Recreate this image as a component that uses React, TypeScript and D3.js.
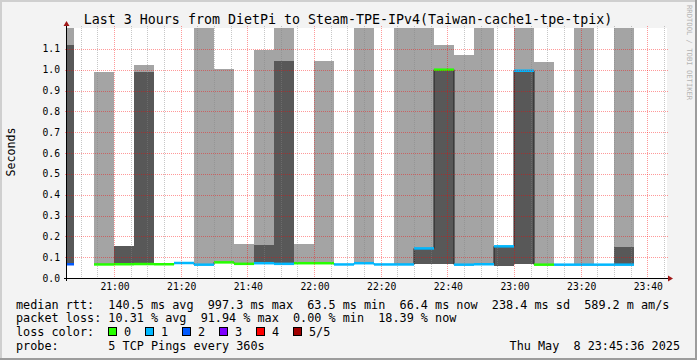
import React, { useRef, useEffect } from 'react';
import * as d3 from 'd3';

// one entry per 6 minute step (5 TCP pings every 360s)
const stepTimes = [
  '20:42', '20:48', '20:54', '21:00', '21:06', '21:12', '21:18', '21:24', '21:30', '21:36',
  '21:42', '21:48', '21:54', '22:00', '22:06', '22:12', '22:18', '22:24', '22:30', '22:36',
  '22:42', '22:48', '22:54', '23:00', '23:06', '23:12', '23:18', '23:24', '23:30', '23:36', '23:42',
];
// median rtt in seconds
const medianRtt = [
  0.066, null, 0.065, 0.066, 0.067, 0.066, 0.072, 0.064, 0.075, 0.068,
  0.071, 0.068, 0.071, 0.071, 0.065, 0.071, 0.065, 0.065, 0.142, 1.0,
  0.064, 0.066, 0.152, 0.995, 0.064, 0.064, 0.064, 0.064, 0.064, null, null,
];
// lost pings per step
const lossCount = [
  2, null, 0, 0, 0, 0, 1, 1, 0, 0,
  1, 1, 0, 0, 1, 1, 1, 1, 1, 0,
  1, 1, 1, 1, 0, 1, 1, 1, 1, null, null,
];
// outer smoke (fastest .. slowest ping)
const smokeLo = [
  0.066, null, 0.065, 0.066, 0.067, null, 0.070, 0.064, 0.075, 0.068,
  0.071, 0.068, 0.071, 0.071, null, 0.071, null, 0.065, 0.065, 0.065,
  0.064, 0.066, 0.060, 0.065, 0.064, null, 0.064, null, 0.064, null, null,
];
const smokeHi = [
  1.25, null, 0.99, 0.154, 1.022, null, 0.076, 1.25, 1.003, 0.163,
  1.094, 1.25, 0.163, 1.042, null, 1.25, null, 1.25, 1.25, 1.118,
  1.07, 1.25, 0.15, 1.25, 1.037, null, 1.25, null, 1.25, null, null,
];
// inner smoke (2nd .. 4th ping)
const coreLo = [
  0.066, null, null, 0.066, 0.067, null, null, null, null, null,
  0.071, 0.068, null, null, null, null, null, null, 0.065, 0.065,
  null, null, 0.060, 0.065, null, null, null, null, 0.064, null, null,
];
const coreHi = [
  1.118, null, null, 0.154, 0.99, null, null, null, null, null,
  0.158, 1.042, null, null, null, null, null, null, 0.142, 1.0,
  null, null, 0.15, 0.995, null, null, null, null, 0.15, null, null,
];

const yTicks = [0, 0.1, 0.2, 0.3, 0.4, 0.5, 0.6, 0.7, 0.8, 0.9, 1.0, 1.1];
const lossColors = ['#26ff00', '#00b8ff', '#0059ff', '#7e00ff', '#ff0000', '#a00000'];
const lossLabels = ['0', '1', '2', '3', '4', '5/5'];

const rowMedian = 'median rtt:  140.5 ms avg  997.3 ms max  63.5 ms min  66.4 ms now  238.4 ms sd  589.2 m am/s';
const rowLoss = 'packet loss: 10.31 % avg  91.94 % max  0.00 % min  18.39 % now';
const rowProbe = 'probe:       5 TCP Pings every 360s';
const stamp = 'Thu May  8 23:45:36 2025';
const title = 'Last 3 Hours from DietPi to Steam-TPE-IPv4(Taiwan-cache1-tpe-tpix)';

const W = 697, H = 360;
const FONT = "'DejaVu Sans Mono', monospace";

const at = (hm) => {
  const [h, m, s] = hm.split(':').map(Number);
  return new Date(2025, 4, 8, h, m, s || 0);
};

export default function App() {
  const ref = useRef(null);

  useEffect(() => {
    const svg = d3.select(ref.current);
    svg.selectAll('*').remove();

    const left = 67, right = 667, top = 28, bottom = 278;
    const x = d3.scaleTime().domain([at('20:45:54'), at('23:45:54')]).range([left, right]);
    const y = d3.scaleLinear().domain([0, 1.2]).range([bottom, top]);
    const stepEnd = (t) => d3.timeMinute.offset(at(t), 6);

    // frame
    svg.append('rect').attr('width', W).attr('height', H).attr('fill', '#f3f3f3');
    svg.append('rect').attr('x', 0).attr('y', 0).attr('width', W).attr('height', 2).attr('fill', '#cfcfcf');
    svg.append('rect').attr('x', 0).attr('y', 0).attr('width', 2).attr('height', H).attr('fill', '#cfcfcf');
    svg.append('rect').attr('x', 0).attr('y', H - 2).attr('width', W).attr('height', 2).attr('fill', '#9c9c9c');
    svg.append('rect').attr('x', W - 2).attr('y', 0).attr('width', 2).attr('height', H).attr('fill', '#9c9c9c');

    svg.append('defs').append('clipPath').attr('id', 'plot')
      .append('rect').attr('x', left).attr('y', top).attr('width', right - left).attr('height', bottom - top);

    svg.append('rect').attr('x', left).attr('y', top).attr('width', right - left).attr('height', bottom - top).attr('fill', '#fff');

    const plot = svg.append('g').attr('clip-path', 'url(#plot)');

    // smoke
    stepTimes.forEach((t, i) => {
      const x0 = Math.max(left, x(at(t)));
      const x1 = x(stepEnd(t));
      if (smokeLo[i] != null) {
        plot.append('rect').attr('x', x0).attr('width', x1 - x0)
          .attr('y', y(smokeHi[i])).attr('height', y(smokeLo[i]) - y(smokeHi[i]))
          .attr('fill', '#a4a4a4').attr('shape-rendering', 'crispEdges');
      }
      if (coreLo[i] != null) {
        plot.append('rect').attr('x', x0).attr('width', x1 - x0)
          .attr('y', y(coreHi[i])).attr('height', y(coreLo[i]) - y(coreHi[i]))
          .attr('fill', '#585858').attr('shape-rendering', 'crispEdges');
      }
    });

    // grid
    const grid = svg.append('g').attr('shape-rendering', 'crispEdges');
    const minor = x.ticks(d3.timeMinute.every(5)).filter(d => d.getMinutes() % 20 !== 0);
    const major = x.ticks(d3.timeMinute.every(20));
    grid.selectAll('.mg').data(minor).enter().append('line')
      .attr('x1', d => Math.round(x(d)) + 0.5).attr('x2', d => Math.round(x(d)) + 0.5)
      .attr('y1', top - 2).attr('y2', bottom + 2)
      .attr('stroke', 'rgba(130,130,130,0.45)').attr('stroke-dasharray', '1,1');
    grid.selectAll('.Mg').data(major).enter().append('line')
      .attr('x1', d => Math.round(x(d)) + 0.5).attr('x2', d => Math.round(x(d)) + 0.5)
      .attr('y1', top - 2).attr('y2', bottom + 2)
      .attr('stroke', 'rgba(255,0,0,0.4)').attr('stroke-dasharray', '1,1');
    grid.selectAll('.hg').data(yTicks.slice(1)).enter().append('line')
      .attr('x1', left - 2).attr('x2', right + 2)
      .attr('y1', d => Math.round(y(d)) + 0.5).attr('y2', d => Math.round(y(d)) + 0.5)
      .attr('stroke', 'rgba(255,0,0,0.4)').attr('stroke-dasharray', '1,1');

    // median staircase
    const pts = [];
    stepTimes.forEach((t, i) => {
      if (medianRtt[i] == null) { pts.push(null); return; }
      pts.push([Math.max(left, x(at(t))), y(medianRtt[i])]);
      pts.push([x(stepEnd(t)), y(medianRtt[i])]);
    });
    const line = d3.line().defined(d => d != null).x(d => d[0]).y(d => d[1]);
    plot.append('path').attr('d', line(pts)).attr('fill', 'none').attr('stroke', '#202020').attr('stroke-width', 1);

    stepTimes.forEach((t, i) => {
      if (medianRtt[i] == null) return;
      plot.append('line')
        .attr('x1', Math.max(left, x(at(t)))).attr('x2', x(stepEnd(t)))
        .attr('y1', y(medianRtt[i])).attr('y2', y(medianRtt[i]))
        .attr('stroke', lossColors[lossCount[i]]).attr('stroke-width', 2.5);
    });

    // axes
    svg.append('line').attr('x1', left - 3).attr('x2', right + 2).attr('y1', bottom + 0.5).attr('y2', bottom + 0.5)
      .attr('stroke', '#000').attr('shape-rendering', 'crispEdges');
    svg.append('line').attr('x1', left - 0.5).attr('x2', left - 0.5).attr('y1', bottom + 3).attr('y2', top - 3)
      .attr('stroke', '#000').attr('shape-rendering', 'crispEdges');
    svg.append('path').attr('d', `M${right + 1},${bottom - 2.5}L${right + 6},${bottom + 0.5}L${right + 1},${bottom + 3.5}Z`).attr('fill', '#a01818');
    svg.append('path').attr('d', `M${left - 3.5},${top - 2}L${left - 0.5},${top - 7}L${left + 2.5},${top - 2}Z`).attr('fill', '#a01818');

    // tick labels
    svg.selectAll('.yl').data(yTicks).enter().append('text')
      .attr('x', 60).attr('y', d => y(d) + 3.5).attr('text-anchor', 'end')
      .attr('font-family', FONT).attr('font-size', '9.7px').attr('fill', '#000')
      .text(d => d3.format('.1f')(d));
    svg.selectAll('.xl').data(major).enter().append('text')
      .attr('x', d => x(d) + 1).attr('y', 290).attr('text-anchor', 'middle')
      .attr('font-family', FONT).attr('font-size', '9.7px').attr('fill', '#000')
      .text(d3.timeFormat('%H:%M'));

    svg.append('text').attr('transform', 'translate(14.5,152) rotate(-90)').attr('text-anchor', 'middle')
      .attr('font-family', FONT).attr('font-size', '11.6px').attr('fill', '#000').text('Seconds');

    svg.append('text').attr('x', 348).attr('y', 24).attr('text-anchor', 'middle')
      .attr('font-family', FONT).attr('font-size', '13.3px').attr('fill', '#000').text(title);

    svg.append('text').attr('transform', 'translate(686.5,5) rotate(90)')
      .attr('font-family', FONT).attr('font-size', '7.2px').attr('fill', '#b4b4b4').text('RRDTOOL / TOBI OETIKER');

    // legend
    const leg = svg.append('g').attr('font-family', FONT).attr('font-size', '11.8px').attr('fill', '#000');
    leg.append('text').attr('x', 16).attr('y', 308.6).attr('xml:space', 'preserve').style('white-space', 'pre').text(rowMedian);
    leg.append('text').attr('x', 16).attr('y', 322.3).attr('xml:space', 'preserve').style('white-space', 'pre').text(rowLoss);
    leg.append('text').attr('x', 16).attr('y', 336).text('loss color:');
    lossColors.forEach((c, i) => {
      const sx = 108.5 + i * 37;
      leg.append('rect').attr('x', sx).attr('y', 327.5).attr('width', 8).attr('height', 8)
        .attr('fill', c).attr('stroke', '#000').attr('shape-rendering', 'crispEdges');
      leg.append('text').attr('x', sx + 15.5).attr('y', 336).text(lossLabels[i]);
    });
    leg.append('text').attr('x', 16).attr('y', 349.7).attr('xml:space', 'preserve').style('white-space', 'pre').text(rowProbe);
    leg.append('text').attr('x', 680).attr('y', 349.7).attr('text-anchor', 'end').attr('xml:space', 'preserve').style('white-space', 'pre').text(stamp);
  }, []);

  return <svg ref={ref} width={W} height={H} style={{ position: 'absolute', left: 0, top: 0 }} />;
}
